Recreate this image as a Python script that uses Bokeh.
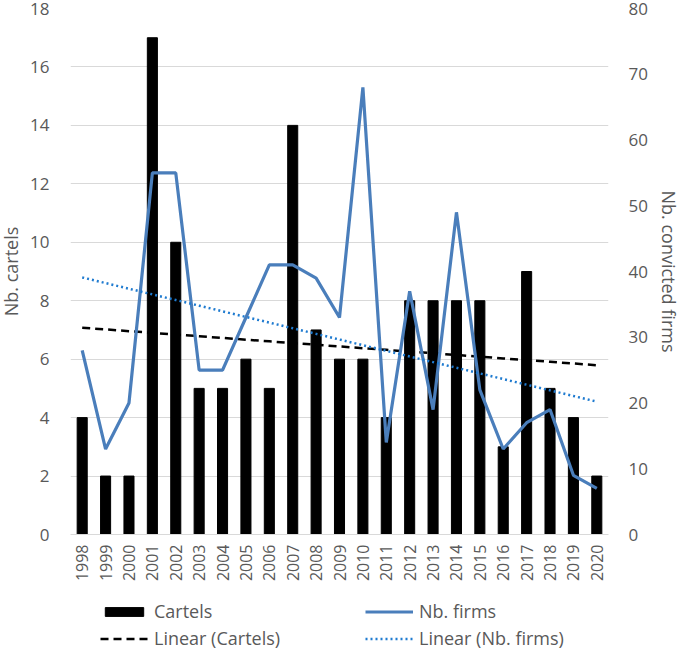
import numpy as np
from bokeh.plotting import figure
from bokeh.layouts import column
from bokeh.models import (FactorRange, Range1d, LinearAxis, Legend, LegendItem,
                          FixedTicker, ColumnDataSource)
from bokeh.embed import file_html
from bokeh.resources import INLINE

years = ["1998", "1999", "2000", "2001", "2002", "2003", "2004", "2005", "2006",
         "2007", "2008", "2009", "2010", "2011", "2012", "2013", "2014", "2015",
         "2016", "2017", "2018", "2019", "2020"]
cartels = [4, 2, 2, 17, 10, 5, 5, 6, 5, 14, 7, 6, 6, 4, 8, 8, 8, 8, 3, 9, 5, 4, 2]
firms = [28, 13, 20, 55, 55, 25, 25, 33, 41, 41, 39, 33, 68, 14, 37, 19, 49, 22,
         13, 17, 19, 9, 7]
left_ticks = [0, 2, 4, 6, 8, 10, 12, 14, 16, 18]
right_ticks = [0, 10, 20, 30, 40, 50, 60, 70, 80]

# Excel-style linear trendlines (least squares on the series)
idx = np.arange(1, len(years) + 1)
trend_c = np.polyval(np.polyfit(idx, cartels, 1), idx)
trend_f = np.polyval(np.polyfit(idx, firms, 1), idx)

src = ColumnDataSource(dict(year=years, cartels=cartels, firms=firms,
                            trend_c=trend_c, trend_f=trend_f))

FONT = "Open Sans"
GREY = "#595959"
BAR = dict(color="black")
TC = dict(line_color="black", line_width=2.5, line_dash="8 5")
FL = dict(line_color="#4A7EBB", line_width=3.2)
TF = dict(line_color="#1F7BD0", line_width=2.5, line_dash="2 3")

p = figure(x_range=FactorRange(*years), y_range=Range1d(0, 18),
           width=693, height=595, output_backend="svg", toolbar_location=None,
           min_border_left=78, min_border_right=77, min_border_top=16,
           min_border_bottom=53)
p.outline_line_color = None
p.extra_y_ranges = {"firms": Range1d(0, 80)}

p.vbar(x="year", top="cartels", width=0.43, source=src, **BAR)
p.line(x="year", y="trend_c", source=src, **TC)
p.line(x="year", y="firms", source=src, y_range_name="firms", **FL)
p.line(x="year", y="trend_f", source=src, y_range_name="firms", **TF)

# left axis
ya = p.yaxis[0]
ya.ticker = FixedTicker(ticks=left_ticks)
ya.axis_line_color = None
ya.major_tick_line_color = None
ya.minor_tick_line_color = None
ya.major_tick_out = 0
ya.major_tick_in = 0
ya.major_label_standoff = 21
ya.major_label_text_font = FONT
ya.major_label_text_font_size = "17px"
ya.major_label_text_color = GREY
ya.axis_label = "Nb. cartels"
ya.axis_label_text_font = FONT
ya.axis_label_text_font_size = "18px"
ya.axis_label_text_font_style = "normal"
ya.axis_label_text_color = GREY
ya.axis_label_standoff = 4

# right axis
ra = LinearAxis(y_range_name="firms", ticker=FixedTicker(ticks=right_ticks))
ra.axis_line_color = None
ra.major_tick_line_color = None
ra.minor_tick_line_color = None
ra.major_tick_out = 0
ra.major_tick_in = 0
ra.major_label_standoff = 20
ra.major_label_text_font = FONT
ra.major_label_text_font_size = "17px"
ra.major_label_text_color = GREY
ra.axis_label = "Nb. convicted firms"
ra.axis_label_text_font = FONT
ra.axis_label_text_font_size = "18px"
ra.axis_label_text_font_style = "normal"
ra.axis_label_text_color = GREY
ra.axis_label_standoff = 6
p.add_layout(ra, "right")

# x axis
xa = p.xaxis[0]
xa.axis_line_color = "#D9D9D9"
xa.major_tick_line_color = None
xa.minor_tick_line_color = None
xa.major_tick_out = 0
xa.major_tick_in = 0
xa.major_label_orientation = np.pi / 2
xa.major_label_standoff = 10
xa.major_label_text_font = FONT
xa.major_label_text_font_size = "16px"
xa.major_label_text_color = GREY

p.xgrid.grid_line_color = None
p.ygrid.grid_line_color = "#D9D9D9"
p.ygrid.grid_line_width = 1

# legend strip: same series, drawn outside its visible range so only the
# legend swatches show
lf = figure(width=693, height=64, output_backend="svg", toolbar_location=None,
            x_range=FactorRange(*years), y_range=Range1d(200, 201),
            min_border=0, x_axis_type=None, y_axis_type=None)
lf.outline_line_color = None
lf.grid.grid_line_color = None
r_bar = lf.vbar(x="year", top="cartels", width=0.43, source=src, **BAR)
r_tc = lf.line(x="year", y="trend_c", source=src, **TC)
r_fl = lf.line(x="year", y="firms", source=src, **FL)
r_tf = lf.line(x="year", y="trend_f", source=src, **TF)

def make_legend(items, loc):
    lg = Legend(items=items, location=loc, orientation="vertical",
                label_text_font=FONT, label_text_font_size="18px",
                label_text_color=GREY, glyph_width=48, glyph_height=11,
                label_height=20, label_standoff=6, spacing=3, padding=0,
                margin=0, border_line_color=None, background_fill_alpha=0)
    lf.add_layout(lg, "center")

make_legend([LegendItem(label="Cartels", renderers=[r_bar]),
             LegendItem(label="Linear (Cartels)", renderers=[r_tc])], (30, 1))
make_legend([LegendItem(label="Nb. firms", renderers=[r_fl]),
             LegendItem(label="Linear (Nb. firms)", renderers=[r_tf])], (295, 1))

layout = column(p, lf, spacing=0)
layout.styles = {"margin-top": "-8px", "margin-left": "-8px",
                 "margin-bottom": "-8px"}

open("out.html", "w").write(file_html(layout, INLINE))
